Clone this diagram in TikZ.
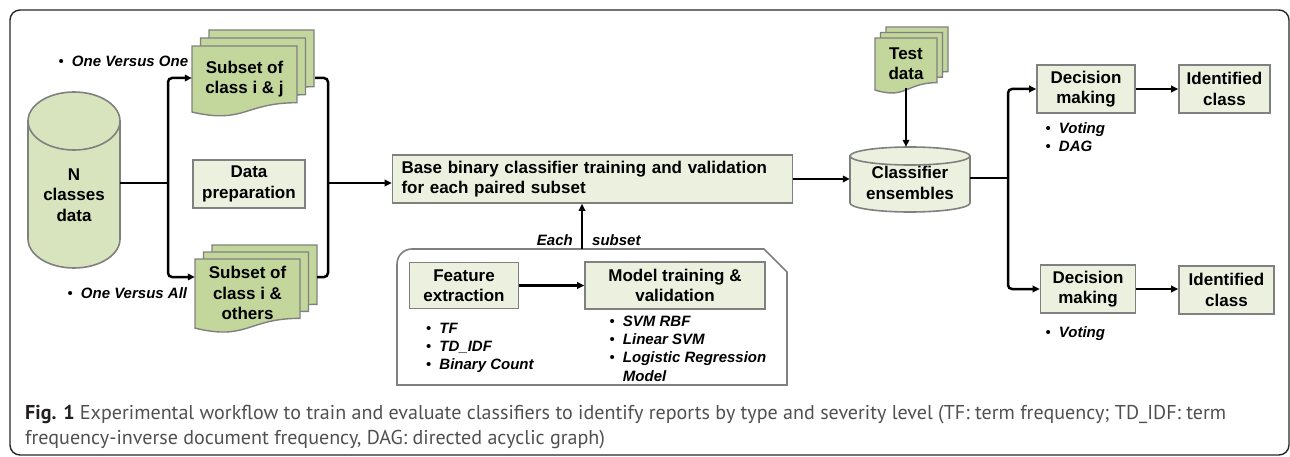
\documentclass[tikz,border=0pt]{standalone}
\usepackage{fontspec}
\setmainfont{Liberation Sans}
\newfontfamily\capfont{PT Sans}
\usetikzlibrary{arrows.meta,calc}
\definecolor{boxfill}{HTML}{EBF1DE}
\definecolor{docfill}{HTML}{C3D69B}
\definecolor{cylfill}{HTML}{D7E4BD}
\definecolor{edgegray}{HTML}{808080}
\definecolor{captxt}{HTML}{505050}
\definecolor{capbold}{HTML}{231F20}
\newcommand\mydoc[4]{%
  \filldraw[docst] (#1,#2) -- ({#1+#3},#2) -- ({#1+#3},{#2+0.802*#4})
    .. controls ({#1+0.5*#3},{#2+0.802*#4}) and ({#1+0.5*#3},{#2+1.107*#4}) ..
    (#1,{#2+0.934*#4}) -- cycle;}
\newcommand\bul{{\upshape\mdseries\char"2022}}
\newlength\capw
\begin{document}
\settowidth\capw{\capfont\fontsize{17}{25}\selectfont\textbf{Fig. 1} Experimental workflow to train and evaluate classifiers to identify reports by type and severity level (TF: term frequency; TD\_IDF: term}%
\pgfmathsetmacro\capsc{1201/\capw}%
\begin{tikzpicture}[x=1pt,y=-1pt,
  box/.style={draw=edgegray, line width=1.6pt, fill=boxfill, inner sep=0pt, align=center,
    font=\fontsize{17}{20.5}\selectfont\bfseries},
  lbl/.style={inner sep=0pt, align=center, font=\fontsize{17}{20.5}\selectfont\bfseries},
  blist/.style={inner sep=0pt, align=left, font=\fontsize{15}{18}\selectfont\bfseries\itshape, anchor=base west},
  conn/.style={line width=2.5pt, black},
  arr/.style={conn, -{Triangle[length=7pt,width=6.5pt]}},
  docst/.style={draw=edgegray, line width=1.4pt, fill=docfill},
  cylst/.style={draw=edgegray, line width=1.6pt},
  capst/.style={anchor=base west, inner sep=0pt, text=captxt, font=\capfont\fontsize{17}{25}\selectfont},
]
\useasboundingbox (0,0) rectangle (1290,457);
% outer frame
\draw[line width=1.4pt, draw=black!85, rounded corners=10pt] (10,10) rectangle (1289,455);

% ---- shapes: documents
\mydoc{209}{30}{105}{70.7}
\mydoc{200.5}{38}{105}{70.7}
\mydoc{192}{46}{105}{70.7}
\mydoc{212}{245}{105}{74}
\mydoc{203.5}{252}{105}{74}
\mydoc{195}{259}{105}{74}
\mydoc{886}{27}{62}{55.7}
\mydoc{880.5}{32.5}{62}{55.7}
\mydoc{875}{38}{62}{55.7}

% ---- cylinders
\filldraw[cylst, fill=cylfill] (28,121) -- (28,239) arc[start angle=180, end angle=0, x radius=46, y radius=29] -- (120,121) -- cycle;
\filldraw[cylst, fill=cylfill] (74,121) ellipse[x radius=46, y radius=29];
\filldraw[cylst, fill=boxfill] (850,156) -- (850,203) arc[start angle=180, end angle=0, x radius=60, y radius=9] -- (970,156) -- cycle;
\filldraw[cylst, fill=boxfill] (910,156) ellipse[x radius=60, y radius=9];

% ---- container
\draw[draw=edgegray, line width=1.6pt] (397,385) -- (397,264) arc[start angle=180, end angle=270, radius=15]
  -- (764,249) -- (787,272) -- (787,385) -- cycle;

% ---- nodes
\node[lbl, minimum width=92] (N) at (74,195) {N\\classes\\data};
\node[lbl, minimum width=105] (s1) at (244.5,79) {Subset of\\class i \& j};
\node[lbl, minimum width=105] (s2) at (247.5,293) {Subset of\\class i \&\\others};
\node[box, minimum width=112, minimum height=48] (dp) at (249,184) {Data\\preparation};
\node[box, minimum width=400, minimum height=48, text width=382, align=left] (base) at (592.5,179)
  {Base binary classifier training and validation\\for each paired subset};
\node[box, minimum width=109, minimum height=46] (fe) at (464,285.5) {Feature\\extraction};
\node[box, minimum width=180, minimum height=47] (mt) at (675,285.5) {Model training \&\\validation};
\node[lbl, minimum width=62] (test) at (906,63.5) {Test\\data};
\node[lbl, minimum width=120, minimum height=72] (cls) at (910,183) {Classifier\\ensembles};
\node[box, minimum width=98, minimum height=48] (d1) at (1086,89) {Decision\\making};
\node[box, minimum width=91, minimum height=48] (i1) at (1224.5,89) {Identified\\class};
\node[box, minimum width=95, minimum height=48] (d2) at (1088,289) {Decision\\making};
\node[box, minimum width=95, minimum height=48] (i2) at (1226.5,290) {Identified\\class};

% ---- bullet texts
\node[blist] (ovo) at (58.5,66.5) {\bul\hspace{8pt}One Versus One};
\node[blist] (ova) at (67.5,298.5) {\bul\hspace{8pt}One Versus All};
\node[blist, anchor=base east] (each) at (573,245.5) {Each};
\node[blist] (subs) at (592,245.5) {subset};
\node[blist] (fel) at (426,333.5) {\begin{tabular}[t]{@{}l@{\hspace{8pt}}l@{}}\bul & TF\\ \bul & TD\_IDF\\ \bul & Binary Count\end{tabular}};
\node[blist, font=\fontsize{15}{18.2}\selectfont\bfseries\itshape] (mtl) at (609.5,326.5) {\begin{tabular}[t]{@{}l@{\hspace{8pt}}l@{}}\bul & SVM RBF\\ \bul & Linear SVM\\ \bul & Logistic Regression\\ & Model\end{tabular}};
\node[blist] (d1l) at (1045.5,133.5) {\begin{tabular}[t]{@{}l@{\hspace{8pt}}l@{}}\bul & Voting\\ \bul & DAG\end{tabular}};
\node[blist] (d2l) at (1045.5,337.5) {\bul\hspace{8pt}Voting};

% ---- connectors
\coordinate (j1) at (168,183);
\coordinate (j2) at (328,183);
\coordinate (j3) at (1008,178);
\coordinate (ctop) at (582,249);
\draw[conn] ([yshift=12pt]N.east) -- (j1);
\draw[arr, rounded corners=4pt] (j1) |- ([yshift=1pt]s1.west);
\draw[arr, rounded corners=4pt] (j1) |- ([yshift=16pt]s2.west);
\draw[conn, rounded corners=4pt] ([xshift=18pt,yshift=1pt]s1.east) -| (j2) |- ([xshift=17pt,yshift=16pt]s2.east);
\draw[arr] (j2) -- (j2 -| base.west);
\draw[arr] (ctop) -- (ctop |- base.south);
\draw[arr] (fe.east) -- (fe.east -| mt.west);
\draw[arr] (base.east) -- (base.east -| cls.west);
\draw[arr] ([yshift=-25pt]test.center) -- (test.center |- cls.north);
\draw[conn] (j3 -| cls.east) -- (j3);
\draw[arr, rounded corners=4pt] (j3) |- (d1.west);
\draw[arr, rounded corners=4pt] (j3) |- (d2.west);
\draw[arr] (d1.east) -- (i1.west);
\draw[arr] (d2.east) -- (d2.east -| i2.west);

% ---- caption
\node[capst, scale=\capsc] (cap1) at (25,419) {\textcolor{capbold}{\textbf{Fig. 1}} Experimental workflow to train and evaluate classifiers to identify reports by type and severity level (TF: term frequency; TD\_IDF: term};
\node[capst, scale=\capsc] (cap2) at (25,444) {frequency-inverse document frequency, DAG: directed acyclic graph)};
\end{tikzpicture}
\end{document}
